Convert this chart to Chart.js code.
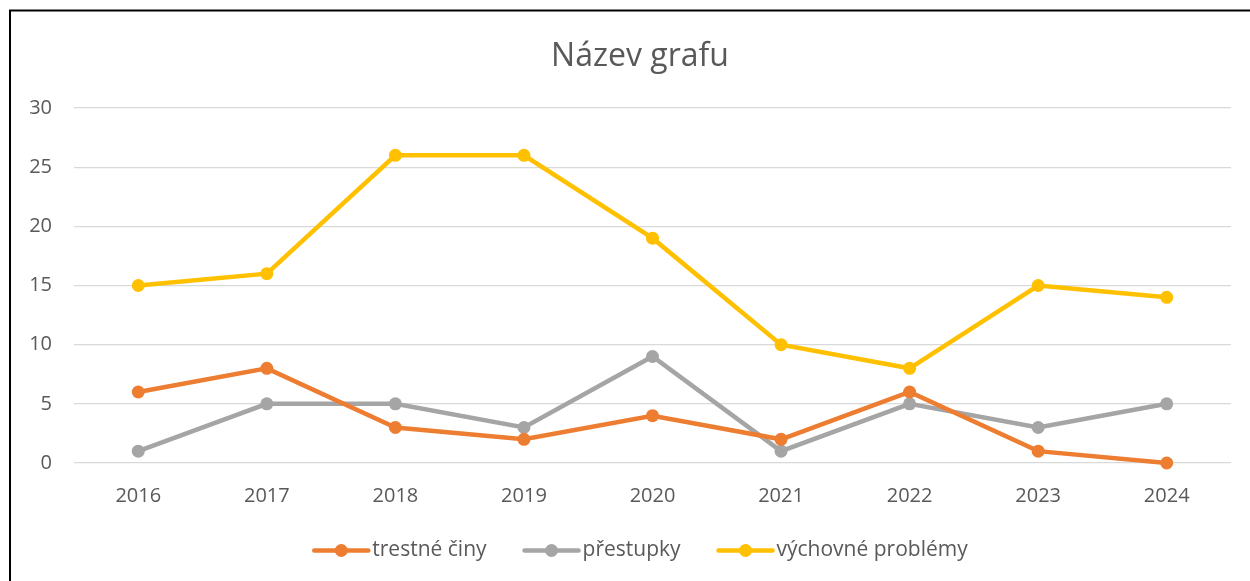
<!DOCTYPE html>
<html>
<head>
<meta charset="utf-8">
<script src="https://cdn.jsdelivr.net/npm/chart.js@4.4.1/dist/chart.umd.min.js"></script>
<style>
  html, body { margin: 0; padding: 0; background: #fff; }
  #wrap { width: 1250px; height: 581px; position: relative; }
</style>
</head>
<body>
<div id="wrap"><canvas id="c" width="1250" height="581"></canvas></div>
<script>
const categories = ['2016', '2017', '2018', '2019', '2020', '2021', '2022', '2023', '2024'];
const trestneCiny = [6, 8, 3, 2, 4, 2, 6, 1, 0];
const prestupky = [1, 5, 5, 3, 9, 1, 5, 3, 5];
const vychovneProblemy = [15, 16, 26, 26, 19, 10, 8, 15, 14];
const seriesNames = ['trestné činy', 'přestupky', 'výchovné problémy'];
const seriesColors = ['#ED7D31', '#A5A5A5', '#FFC000'];
const yTicks = [0, 5, 10, 15, 20, 25, 30];
const chartTitle = 'Název grafu';

const FONT = "'Open Sans', 'DejaVu Sans', sans-serif";
const TEXT = '#595959';

function ds(label, data, color) {
  return {
    label, data,
    borderColor: color, backgroundColor: color,
    borderWidth: 4.5,
    pointRadius: 6.5, pointHoverRadius: 6.5,
    pointBackgroundColor: color, pointBorderColor: color, pointBorderWidth: 0,
    tension: 0, yAxisID: 'y', clip: false
  };
}

const frame = {
  id: 'frame',
  afterDraw(chart) {
    const ctx = chart.ctx;
    ctx.save();
    ctx.strokeStyle = '#000';
    ctx.lineWidth = 2;
    ctx.beginPath();
    ctx.moveTo(10, 600);
    ctx.lineTo(10, 10.5);
    ctx.lineTo(1260, 10.5);
    ctx.stroke();
    ctx.restore();
  }
};

const legendMarks = {
  id: 'legendMarks',
  afterDraw(chart) {
    const lg = chart.legend;
    if (!lg || !lg.legendHitBoxes) return;
    const ctx = chart.ctx;
    ctx.save();
    lg.legendHitBoxes.forEach((hb, i) => {
      const color = seriesColors[i];
      const y = hb.top + hb.height / 2;
      ctx.strokeStyle = color;
      ctx.fillStyle = color;
      ctx.lineWidth = 4.5;
      ctx.lineCap = 'round';
      ctx.beginPath();
      ctx.moveTo(hb.left + 2, y);
      ctx.lineTo(hb.left + 56, y);
      ctx.stroke();
      ctx.beginPath();
      ctx.arc(hb.left + 29, y, 6.5, 0, Math.PI * 2);
      ctx.fill();
    });
    ctx.restore();
  }
};

new Chart(document.getElementById('c'), {
  type: 'line',
  data: {
    labels: categories,
    datasets: [
      ds(seriesNames[0], trestneCiny, seriesColors[0]),
      ds(seriesNames[1], prestupky, seriesColors[1]),
      ds(seriesNames[2], vychovneProblemy, seriesColors[2])
    ]
  },
  plugins: [frame, legendMarks],
  options: {
    responsive: false,
    animation: false,
    events: [],
    layout: { padding: { left: 10, right: -20, top: 14, bottom: 11 } },
    plugins: {
      title: {
        display: true,
        text: chartTitle,
        color: TEXT,
        font: { family: FONT, size: 32, weight: 'normal', lineHeight: 1.2 },
        padding: { top: 24, bottom: 31.6 }
      },
      legend: {
        display: true,
        position: 'bottom',
        maxHeight: 66,
        labels: {
          color: TEXT,
          font: { family: FONT, size: 21 },
          boxWidth: 49.5,
          boxHeight: 20,
          padding: 36,
          generateLabels(chart) {
            return Chart.defaults.plugins.legend.labels.generateLabels(chart).map(l => ({
              ...l, fillStyle: 'rgba(0,0,0,0)', strokeStyle: 'rgba(0,0,0,0)', lineWidth: 0
            }));
          }
        }
      },
      tooltip: { enabled: false }
    },
    scales: {
      x: {
        offset: true,
        grid: { display: false, drawTicks: false, tickLength: 0 },
        border: { display: false },
        ticks: { color: TEXT, font: { family: FONT, size: 20 }, padding: 21, maxRotation: 0 },
        afterFit(s) { s.height = 41; }
      },
      y: {
        position: 'left',
        min: 0, max: 30,
        afterBuildTicks(s) { s.ticks = yTicks.map(v => ({ value: v })); },
        grid: { color: '#D9D9D9', lineWidth: 1.3, drawTicks: false },
        border: { display: false },
        ticks: { color: TEXT, font: { family: FONT, size: 20 }, padding: 22 },
        afterFit(s) { s.width = 64; }
      },
      y2: {
        position: 'right',
        display: true,
        grid: { display: false },
        border: { display: false },
        ticks: { display: false },
        afterFit(s) { s.width = 39; }
      }
    }
  }
});
</script>
</body>
</html>
